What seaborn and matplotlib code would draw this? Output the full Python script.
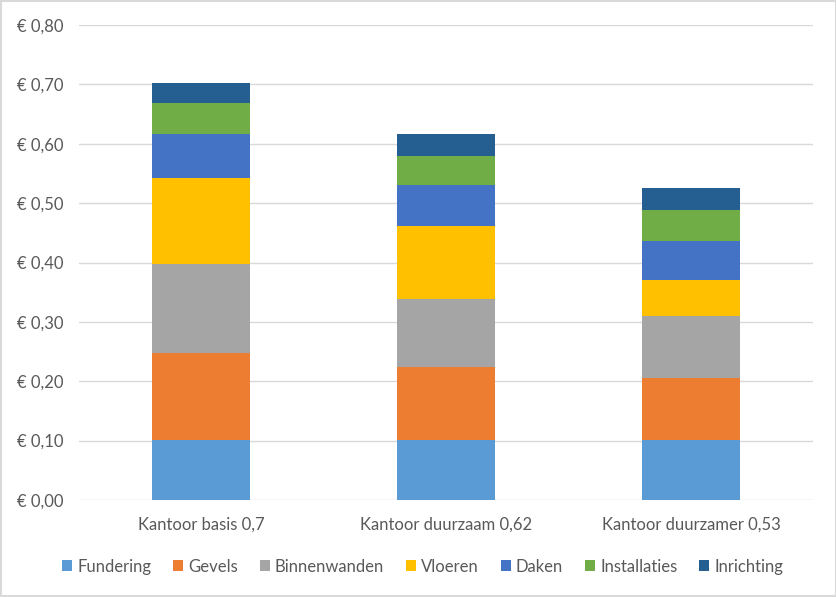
import pandas as pd
import matplotlib
matplotlib.use("Agg")
import matplotlib.pyplot as plt
from matplotlib.patches import Patch, Rectangle
from matplotlib.ticker import FuncFormatter, MultipleLocator
import seaborn as sns

# data (euro per unit)
categories = ["Kantoor basis 0,7", "Kantoor duurzaam 0,62", "Kantoor duurzamer 0,53"]
components = ["Fundering", "Gevels", "Binnenwanden", "Vloeren", "Daken", "Installaties", "Inrichting"]
fundering = [0.101, 0.101, 0.101]
gevels = [0.147, 0.123, 0.104]
binnenwanden = [0.149, 0.114, 0.105]
vloeren = [0.145, 0.123, 0.060]
daken = [0.074, 0.069, 0.067]
installaties = [0.052, 0.050, 0.052]
inrichting = [0.035, 0.037, 0.037]

colors = ["#5B9BD5", "#ED7D31", "#A5A5A5", "#FFC000", "#4472C4", "#70AD47", "#255E91"]

sns.set_style("white")
plt.rcParams["font.family"] = ["Lato", "DejaVu Sans"]

df = pd.DataFrame(
    {
        "categorie": categories,
        "Fundering": fundering,
        "Gevels": gevels,
        "Binnenwanden": binnenwanden,
        "Vloeren": vloeren,
        "Daken": daken,
        "Installaties": installaties,
        "Inrichting": inrichting,
    }
)
cum = df[components].cumsum(axis=1)
cum["categorie"] = df["categorie"]

fig = plt.figure(figsize=(8.37, 5.97), dpi=100)
ax = fig.add_axes([0.0938, 0.1625, 0.878, 0.7955])

# stacked bars: draw cumulative totals from the top layer down
for comp, col in reversed(list(zip(components, colors))):
    sns.barplot(data=cum, x="categorie", y=comp, color=col, width=0.4,
                saturation=1, ax=ax, linewidth=0, zorder=3)

ax.set_ylim(0, 0.8)
ax.set_xlim(-0.5, 2.5)
ax.yaxis.set_major_locator(MultipleLocator(0.1))
ax.yaxis.set_major_formatter(FuncFormatter(lambda v, p: "€ " + f"{v:.2f}".replace(".", ",")))
ax.grid(axis="y", color="#D9D9D9", linewidth=1, zorder=0)
ax.set_axisbelow(True)
for s in ax.spines.values():
    s.set_visible(False)
ax.set_xlabel("")
ax.set_ylabel("")
ax.tick_params(axis="both", length=0, labelsize=12, colors="#595959")
ax.tick_params(axis="y", pad=11)
ax.tick_params(axis="x", pad=12)

handles = [Patch(facecolor=c, edgecolor="none", label=n) for n, c in zip(components, colors)]
fig.legend(handles=handles, loc="center", bbox_to_anchor=(0.505, 0.051), ncol=7,
           frameon=False, fontsize=12, labelcolor="#595959",
           handlelength=0.6, handleheight=0.6, handletextpad=0.3, columnspacing=1.32)

fig.patches.append(Rectangle((0.001, 0.001), 0.998, 0.998, transform=fig.transFigure,
                             fill=False, edgecolor="#D9D9D9", linewidth=1.5))

fig.savefig("out.png", dpi=100)
